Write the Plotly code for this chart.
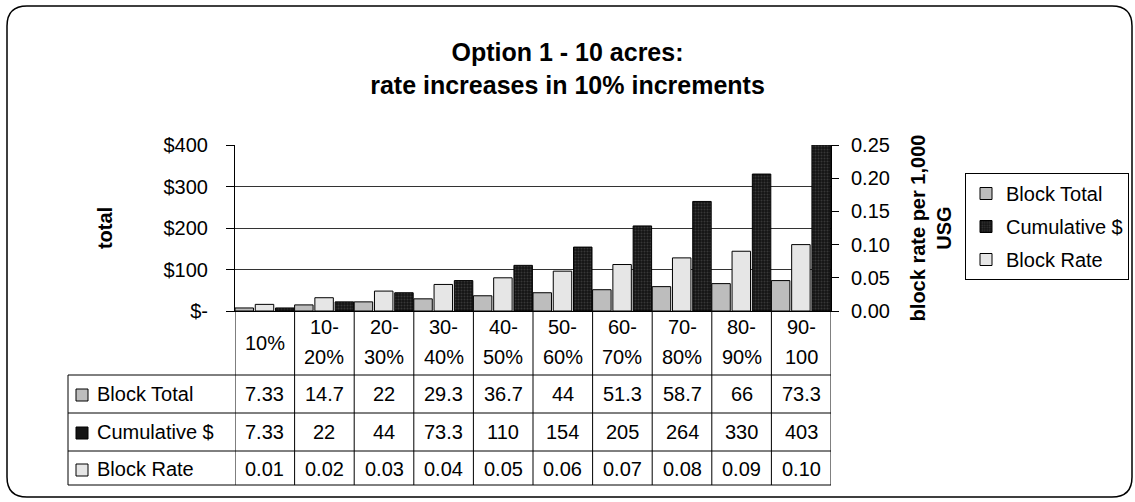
import plotly.graph_objects as go

# ---------------- data ----------------
categories = ["10%", "10-20%", "20-30%", "30-40%", "40-50%", "50-60%",
              "60-70%", "70-80%", "80-90%", "90-100"]
block_total = [7.33, 14.7, 22, 29.3, 36.7, 44, 51.3, 58.7, 66, 73.3]
cumulative = [7.33, 22, 44, 73.3, 110, 154, 205, 264, 330, 403]
block_rate = [0.01, 0.02, 0.03, 0.04, 0.05, 0.06, 0.07, 0.08, 0.09, 0.10]
left_tickvals = [0, 100, 200, 300, 400]
left_ticktext = ["$-", "$100", "$200", "$300", "$400"]
right_tickvals = [0.0, 0.05, 0.10, 0.15, 0.20, 0.25]

# ---------------- layout geometry (pixels) ----------------
FW, FH = 1135, 502
L, R, T, B = 235, 831, 145, 311
W, H = R - L, B - T
FONT = "Liberation Sans, Arial, sans-serif"
FS = 20

def pxx(x):
    return (x - L) / W

def pxy(y):
    return (B - y) / H

C_TOTAL = "#BDBDBD"
C_CUM = "#141414"
C_RATE = "#E6E6E6"

fig = go.Figure()
bw = 0.31
fig.add_trace(go.Bar(x=categories, y=block_total, name="Block Total",
                     marker=dict(color=C_TOTAL, line=dict(color="black", width=1)),
                     width=bw, offset=-0.5, legendgroup="a", yaxis="y"))
fig.add_trace(go.Bar(x=categories, y=cumulative, name="Cumulative $",
                     marker=dict(color=C_CUM, line=dict(color="black", width=1),
                                 pattern=dict(shape=".", fgcolor="#5a5a5a", bgcolor=C_CUM,
                                              size=3, solidity=0.35)),
                     width=bw, offset=0.18, legendgroup="b", yaxis="y"))
fig.add_trace(go.Bar(x=categories, y=block_rate, name="Block Rate",
                     marker=dict(color=C_RATE, line=dict(color="black", width=1)),
                     width=bw, offset=-0.16, legendgroup="c", yaxis="y2"))

shapes = []
# outer rounded border
r = 20
x0, x1, y0, y1 = 7, 1132, 6, 497
path = (f"M {pxx(x0+r)},{pxy(y0)} L {pxx(x1-r)},{pxy(y0)} "
        f"Q {pxx(x1)},{pxy(y0)} {pxx(x1)},{pxy(y0+r)} "
        f"L {pxx(x1)},{pxy(y1-r)} Q {pxx(x1)},{pxy(y1)} {pxx(x1-r)},{pxy(y1)} "
        f"L {pxx(x0+r)},{pxy(y1)} Q {pxx(x0)},{pxy(y1)} {pxx(x0)},{pxy(y1-r)} "
        f"L {pxx(x0)},{pxy(y0+r)} Q {pxx(x0)},{pxy(y0)} {pxx(x0+r)},{pxy(y0)} Z")
shapes.append(dict(type="path", path=path, xref="paper", yref="paper",
                   line=dict(color="black", width=1.5), layer="below"))

# data table
row_tops = [375, 413, 451]
table_bottom = 485
tab_left = 68
n = len(categories)
for k in range(n + 1):
    shapes.append(dict(type="line", xref="x", yref="paper", x0=k - 0.5, x1=k - 0.5,
                       y0=pxy(B), y1=pxy(table_bottom), line=dict(color="black", width=1)))
for yy in row_tops + [table_bottom]:
    shapes.append(dict(type="line", xref="paper", yref="paper", x0=pxx(tab_left), x1=1,
                       y0=pxy(yy), y1=pxy(yy), line=dict(color="black", width=1)))
shapes.append(dict(type="line", xref="paper", yref="paper", x0=pxx(tab_left), x1=pxx(tab_left),
                   y0=pxy(row_tops[0]), y1=pxy(table_bottom), line=dict(color="black", width=1)))

annotations = []
tfont = dict(size=FS, family=FONT, color="black")

def ann(x, y, text, xref="x", xanchor="center"):
    annotations.append(dict(x=x, y=y, xref=xref, yref="paper", text=text,
                            xanchor=xanchor, yanchor="middle", showarrow=False,
                            font=tfont))

# header labels
for i, c in enumerate(categories):
    if "-" in c:
        a, b = c.split("-", 1)
        ann(i, pxy(327), a + "-")
        ann(i, pxy(357), b)
    else:
        ann(i, pxy(343), c)

rows = [("Block Total", block_total, C_TOTAL, lambda v: f"{v:.3g}"),
        ("Cumulative $", cumulative, C_CUM, lambda v: f"{v:.3g}"),
        ("Block Rate", block_rate, C_RATE, lambda v: f"{v:.2f}")]
row_centers = [394, 432, 469]
for (label, vals, col, fmt), yc in zip(rows, row_centers):
    shapes.append(dict(type="rect", xref="paper", yref="paper",
                       x0=pxx(76), x1=pxx(88), y0=pxy(yc - 5), y1=pxy(yc + 7),
                       fillcolor=col, line=dict(color="black", width=1)))
    ann(pxx(95), pxy(yc), label, xref="paper", xanchor="left")
    for i, v in enumerate(vals):
        ann(i, pxy(yc), fmt(v))

fig.update_layout(
    width=FW, height=FH,
    margin=dict(l=L, r=FW - R, t=T, b=FH - B, autoexpand=False),
    paper_bgcolor="white", plot_bgcolor="white",
    font=dict(family=FONT, size=FS, color="black"),
    title=dict(text="<b>Option 1 - 10 acres:<br>rate increases in 10% increments</b>",
               x=0.5, xref="container", xanchor="center",
               y=1 - 61 / FH, yref="container", yanchor="middle",
               font=dict(size=25, family=FONT, color="black")),
    barmode="overlay",
    showlegend=True,
    legend=dict(x=pxx(965), y=pxy(173), xanchor="left", yanchor="top",
                bordercolor="black", borderwidth=1, bgcolor="white",
                traceorder="grouped", tracegroupgap=4,
                font=dict(size=FS, family=FONT, color="black")),
    xaxis=dict(type="category", range=[-0.5, n - 0.5], showticklabels=False,
               ticks="", showline=True, linecolor="black", linewidth=1,
               showgrid=False, zeroline=False),
    yaxis=dict(range=[0, 400], tickvals=left_tickvals, ticktext=left_ticktext,
               ticks="outside", ticklen=8, tickcolor="black", ticklabelstandoff=14,
               showline=True, linecolor="black", linewidth=1,
               showgrid=True, gridcolor="#333333", gridwidth=1, zeroline=False,
               title=dict(text="<b>total</b>", standoff=45,
                          font=dict(size=FS, family=FONT, color="black"))),
    yaxis2=dict(range=[0, 0.25], tickvals=right_tickvals, tickformat=".2f",
                overlaying="y", side="right",
                ticks="outside", ticklen=7, tickcolor="black", ticklabelstandoff=8,
                showline=True, linecolor="black", linewidth=1,
                showgrid=False, zeroline=False,
                title=dict(text="<b>block rate per 1,000<br>USG</b>", standoff=22,
                           font=dict(size=FS, family=FONT, color="black"))),
    shapes=shapes,
    annotations=annotations,
)

fig.write_html("out.html")
